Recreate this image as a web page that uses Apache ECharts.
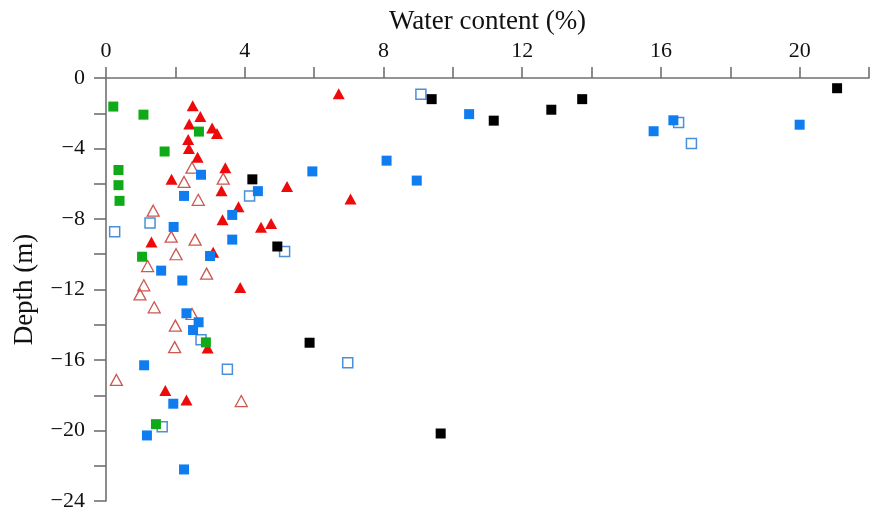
<!DOCTYPE html>
<html>
<head>
<meta charset="utf-8">
<script src="https://cdn.jsdelivr.net/npm/echarts@6/dist/echarts.min.js"></script>
<style>html,body{margin:0;padding:0;background:#fff}#c{width:872px;height:512px}</style>
</head>
<body>
<div id="c"></div>
<script>
// [water content (%), depth (m)]
const blackSquares = [[21.08,-0.58],[9.39,-1.2],[11.18,-2.42],[12.84,-1.8],[13.73,-1.2],[4.22,-5.75],[4.94,-9.56],[5.87,-15.02],[9.65,-20.17]];
const blueSquares = [[10.47,-2.05],[15.79,-3.02],[16.36,-2.4],[20.0,-2.65],[8.09,-4.69],[5.95,-5.3],[8.96,-5.82],[2.74,-5.49],[4.38,-6.42],[2.25,-6.69],[3.64,-7.77],[1.95,-8.45],[3.64,-9.17],[3.0,-10.1],[1.59,-10.93],[2.2,-11.49],[2.32,-13.35],[2.67,-13.86],[2.51,-14.3],[1.1,-16.3],[1.94,-18.48],[1.18,-20.28],[2.25,-22.21]];
const blueHollowSquares = [[9.08,-0.92],[16.51,-2.52],[16.88,-3.72],[4.14,-6.69],[1.27,-8.23],[0.25,-8.73],[5.15,-9.84],[2.74,-14.85],[6.97,-16.15],[3.5,-16.52],[1.62,-19.79]];
const redTriangles = [[6.71,-0.9],[2.5,-1.58],[2.72,-2.18],[2.4,-2.61],[3.06,-2.83],[3.2,-3.15],[2.37,-3.49],[2.39,-4.0],[2.64,-4.49],[3.44,-5.09],[1.89,-5.75],[3.33,-6.4],[5.22,-6.16],[7.05,-6.87],[3.82,-7.31],[3.36,-8.04],[4.47,-8.47],[4.76,-8.26],[1.31,-9.31],[3.09,-9.88],[3.87,-11.89],[2.93,-15.32],[1.71,-17.73],[2.32,-18.27]];
const redHollowTriangles = [[2.48,-5.09],[2.25,-5.9],[3.38,-5.71],[2.66,-6.91],[1.36,-7.53],[1.88,-9.0],[2.57,-9.17],[2.02,-10.0],[1.2,-10.67],[2.9,-11.1],[1.09,-11.76],[0.98,-12.28],[1.39,-13.01],[2.48,-13.39],[2.0,-14.05],[1.98,-15.27],[0.3,-17.13],[3.9,-18.33]];
const greenSquares = [[0.21,-1.62],[1.08,-2.08],[2.68,-3.04],[1.69,-4.17],[0.36,-5.22],[0.36,-6.08],[0.39,-6.97],[1.04,-10.14],[2.88,-15.0],[1.44,-19.64]];

const xLabels = [0,4,8,12,16,20];
const yLabels = [0,-4,-8,-12,-16,-20,-24];

const FONT = "'Liberation Serif','Times New Roman',serif";
const axisColor = '#707070';

const chart = echarts.init(document.getElementById('c'), null, {renderer:'canvas'});
chart.setOption({
  animation: false,
  backgroundColor: '#fff',
  grid: {left: 106, right: -2, top: 78, bottom: 8, containLabel: false},
  xAxis: {
    type: 'value', position: 'top', min: 0, max: 22, interval: 2,
    name: 'Water content (%)', nameLocation: 'middle', nameGap: 41,
    nameTextStyle: {fontFamily: FONT, fontSize: 27, color: '#111'},
    axisLine: {show: true, lineStyle: {color: axisColor, width: 1.6}},
    axisTick: {show: true, inside: false, length: 11, lineStyle: {color: axisColor, width: 1.6}},
    axisLabel: {
      fontFamily: FONT, fontSize: 22, color: '#111', margin: 16,
      formatter: v => xLabels.indexOf(v) >= 0 ? String(v) : ''
    },
    splitLine: {show: false}
  },
  yAxis: {
    type: 'value', min: -24, max: 0, interval: 2,
    name: 'Depth (m)', nameLocation: 'middle', nameGap: 68, nameRotate: 90,
    nameTextStyle: {fontFamily: FONT, fontSize: 27, color: '#111'},
    axisLine: {show: true, onZero: false, lineStyle: {color: axisColor, width: 1.6}},
    axisTick: {show: true, inside: false, length: 12, lineStyle: {color: axisColor, width: 1.6}},
    axisLabel: {
      fontFamily: FONT, fontSize: 22, color: '#111', margin: 21,
      showMinLabel: true, showMaxLabel: true,
      formatter: v => yLabels.indexOf(v) >= 0 ? (v < 0 ? '\u2212' + Math.abs(v) : '0') : ''
    },
    splitLine: {show: false}
  },
  series: [
    {type:'scatter', name:'hollow tri', data: redHollowTriangles, symbol:'triangle', symbolSize:[12,11], z:2,
      itemStyle:{color:'rgba(255,255,255,0)', borderColor:'#cc5850', borderWidth:1.3, opacity:1}},
    {type:'scatter', name:'hollow sq', data: blueHollowSquares, symbol:'rect', symbolSize:10, z:3,
      itemStyle:{color:'rgba(255,255,255,0)', borderColor:'#4a90d8', borderWidth:1.5, opacity:1}},
    {type:'scatter', name:'red tri', data: redTriangles, symbol:'triangle', symbolSize:[12,11], z:4,
      itemStyle:{color:'#ee0a0a', opacity:1}},
    {type:'scatter', name:'blue sq', data: blueSquares, symbol:'rect', symbolSize:10, z:5,
      itemStyle:{color:'#0f7df0', opacity:1}},
    {type:'scatter', name:'black sq', data: blackSquares, symbol:'rect', symbolSize:10, z:6,
      itemStyle:{color:'#000', opacity:1}},
    {type:'scatter', name:'green sq', data: greenSquares, symbol:'rect', symbolSize:10, z:7,
      itemStyle:{color:'#10aa18', opacity:1}}
  ]
});
</script>
</body>
</html>
